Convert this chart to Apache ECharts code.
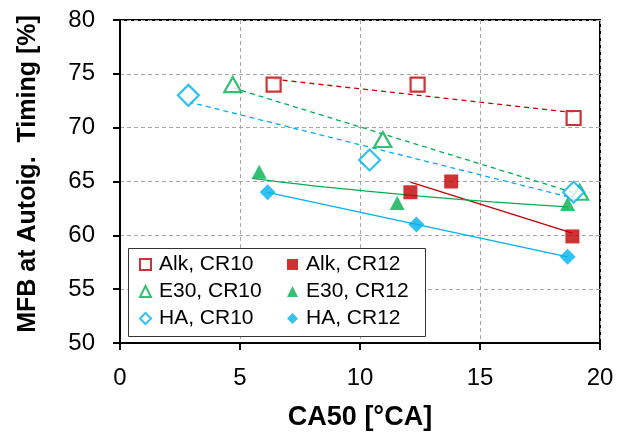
<!DOCTYPE html>
<html><head><meta charset="utf-8">
<script src="https://cdn.jsdelivr.net/npm/echarts@6/dist/echarts.min.js"></script>
<style>html,body{margin:0;padding:0;background:#fff}#c{width:634px;height:432px}</style>
</head><body><div id="c"></div>
<script>
// Data points [CA50, MFB]
const alkCR10 = [[6.4, 74], [12.4, 74], [18.9, 70.9]];
const e30CR10 = [[4.7, 74], [10.95, 68.9], [19.15, 64]];
const haCR10  = [[2.85, 73], [10.4, 67], [18.9, 64]];
const alkCR12 = [[12.1, 64], [13.8, 65], [18.85, 59.9]];
const e30CR12 = [[5.8, 65.9], [11.55, 63], [18.65, 62.9]];
const haCR12  = [[6.15, 64], [12.35, 61], [18.65, 58]];
// Trend lines
const alkCR10Trend = [[6.4, 74.5], [18.9, 71.4]];
const e30CR10Trend = [[4.7, 73.7], [19.15, 63.8]];
const haCR10Trend  = [[2.85, 72.4], [18.9, 63.45]];
const alkCR12Trend = [[12.1, 64.95], [18.85, 60.2]];
const e30CR12Trend = [[5.5, 65.3], [8.5, 64.5], [12.5, 63.65], [15.5, 63.1], [18.65, 62.65]];
const haCR12Trend  = [[6.15, 64.0], [18.65, 58.0]];
const xTicks = [0, 5, 10, 15, 20];
const yTicks = [50, 55, 60, 65, 70, 75, 80];
const xTitle = 'CA50 [°CA]';
const yTitle = 'MFB at Autoig.  Timing [%]';

const RED = '#C00000', GREEN = '#00B050', BLUE = '#00B0F0';
const font = 'Liberation Sans, Arial, sans-serif';

function scat(name, data, symbol, size, color, hollow) {
  return {
    name, type: 'scatter', data, symbol, symbolSize: size, z: 5,
    itemStyle: hollow ? {color: '#fff', borderColor: color, borderWidth: 2.2} : {color: color}
  };
}
function trend(data, color, dashed) {
  return {
    type: 'line', data, showSymbol: false, symbol: 'none', smooth: data.length > 2 ? 0.3 : false,
    lineStyle: {color, width: 1.3, type: dashed ? [5, 4] : 'solid'}, z: 3, silent: true
  };
}
const legendCommon = {
  orient: 'vertical', top: 254, itemWidth: 11, itemHeight: 11, itemGap: 6, padding: 0,
  textStyle: {fontFamily: font, fontSize: 21, lineHeight: 21, color: '#000', padding: [0, 0, 0, 3]}
};

const chart = echarts.init(document.getElementById('c'));
chart.setOption({
  animation: false,
  grid: {left: 120, right: 34, top: 20, bottom: 89, outerBoundsMode: 'none', containLabel: false,
         show: true, borderColor: '#000', borderWidth: 2},
  xAxis: {
    type: 'value', min: 0, max: 20, interval: 5,
    name: xTitle, nameLocation: 'middle', nameGap: 61,
    nameTextStyle: {fontFamily: font, fontSize: 27, fontWeight: 'bold', color: '#000'},
    axisLine: {show: true, lineStyle: {color: '#000', width: 2}},
    axisTick: {show: true, inside: false, length: 7, lineStyle: {color: '#000', width: 2}},
    axisLabel: {fontFamily: font, fontSize: 24, color: '#000', margin: 23, formatter: v => xTicks.includes(v) ? String(v) : ''},
    splitLine: {show: true, lineStyle: {color: '#a6a6a6', type: [4, 3], width: 1}}
  },
  yAxis: {
    type: 'value', min: 50, max: 80, interval: 5,
    axisLine: {show: true, lineStyle: {color: '#000', width: 2}},
    axisTick: {show: true, inside: false, length: 7, lineStyle: {color: '#000', width: 2}},
    axisLabel: {fontFamily: font, fontSize: 24, color: '#000', margin: 25, formatter: v => yTicks.includes(v) ? String(v) : ''},
    splitLine: {show: true, lineStyle: {color: '#a6a6a6', type: [4, 3], width: 1}}
  },
  legend: [
    Object.assign({data: ['Alk, CR10', 'E30, CR10', 'HA, CR10'], left: 139}, legendCommon),
    Object.assign({data: ['Alk, CR12', 'E30, CR12', 'HA, CR12'], left: 287}, legendCommon)
  ],
  graphic: [
    {type: 'rect', shape: {x: 128.5, y: 248.5, width: 297, height: 88}, z: 1,
     style: {fill: '#fff', stroke: '#333', lineWidth: 1}},
    {type: 'text', x: 28, y: 174, rotation: Math.PI / 2, z: 10,
     style: {text: yTitle, fontFamily: font, fontSize: 25, fontWeight: 'bold', fill: '#000',
             align: 'center', verticalAlign: 'middle'}}
  ],
  series: [
    trend(alkCR10Trend, RED, true),
    trend(e30CR10Trend, GREEN, true),
    trend(haCR10Trend, BLUE, true),
    trend(alkCR12Trend, RED, false),
    trend(e30CR12Trend, GREEN, false),
    trend(haCR12Trend, BLUE, false),
    scat('Alk, CR10', alkCR10, 'rect', 14, RED, true),
    scat('E30, CR10', e30CR10, 'triangle', [17, 15], GREEN, true),
    scat('HA, CR10', haCR10, 'diamond', 21, BLUE, true),
    scat('Alk, CR12', alkCR12, 'rect', 14, RED, false),
    scat('E30, CR12', e30CR12, 'triangle', [15, 14], GREEN, false),
    scat('HA, CR12', haCR12, 'diamond', 16, BLUE, false)
  ]
});
</script></body></html>
